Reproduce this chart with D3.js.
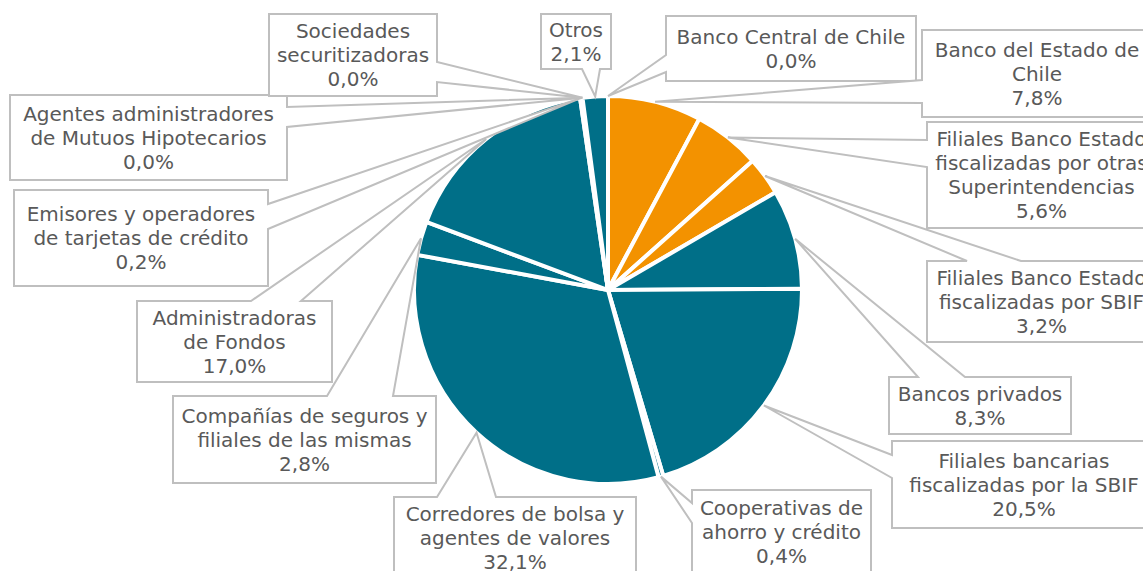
<!DOCTYPE html>
<meta charset="utf-8">
<style>
body { margin: 0; background: #fff; }
.callout path { fill: #fff; stroke: #bfbfbf; stroke-width: 2; }
.callout text { font: 20px "DejaVu Sans", Verdana, sans-serif; fill: #595959; text-anchor: middle; }
.slice path { stroke: #fff; stroke-width: 4; stroke-linejoin: round; }
</style>
<body>
<script src="https://cdn.jsdelivr.net/npm/d3@7"></script>
<script>

// slices, clockwise from 12 o'clock
var categories = [
  "Banco Central de Chile",
  "Banco del Estado de\nChile",
  "Filiales Banco Estado\nfiscalizadas por otras\nSuperintendencias",
  "Filiales Banco Estado\nfiscalizadas por SBIF",
  "Bancos privados",
  "Filiales bancarias\nfiscalizadas por la SBIF",
  "Cooperativas de\nahorro y crédito",
  "Corredores de bolsa y\nagentes de valores",
  "Compañías de seguros y\nfiliales de las mismas",
  "Administradoras\nde Fondos",
  "Emisores y operadores\nde tarjetas de crédito",
  "Agentes administradores\nde Mutuos Hipotecarios",
  "Sociedades\nsecuritizadoras",
  "Otros"
];
var values = [0.0, 7.8, 5.6, 3.2, 8.3, 20.5, 0.4, 32.1, 2.8, 17.0, 0.2, 0.0, 0.0, 2.1];
var groups = ["bcch", "estado", "estado", "estado", "other", "other", "other",
              "other", "other", "other", "other", "other", "other", "other"];

// callout boxes: x0, y0, x1, y1, side of the pointer, pointer base from, to
var boxes = [
  [666, 16, 916, 81, "left", 55, 72],
  [922, 30, 1152, 117, "left", 80, 103],
  [927, 122, 1156, 228, "left", 140, 167],
  [927, 261, 1156, 342, "top", 967, 1021],
  [889, 377, 1071, 434, "top", 918, 965],
  [892, 441, 1156, 528, "left", 455, 478],
  [692, 490, 871, 574, "left", 503, 523],
  [394, 497, 636, 579, "top", 437, 496],
  [173, 396, 436, 483, "top", 327, 393],
  [137, 301, 332, 382, "top", 251, 301],
  [14, 190, 268, 286, "right", 204, 229],
  [10, 95, 287, 180, "right", 107, 127],
  [269, 14, 437, 96, "right", 62, 82],
  [541, 14, 611, 69, "bottom", 582, 600]
];

var width = 1143,
    height = 571,
    cx = 608,
    cy = 290,
    radius = 194;

var color = d3.scaleOrdinal()
    .domain(["bcch", "estado", "other"])
    .range(["#006f88", "#f39200", "#006f88"]);

var pct = d3.formatLocale({decimal: ",", thousands: ".", grouping: [3], currency: ["", ""]}).format(".1f");

var pie = d3.pie()
    .sort(null)
    .value(function(d) { return d; })
    .startAngle(0)
    .endAngle(2 * Math.PI);

var arc = d3.arc()
    .outerRadius(radius)
    .innerRadius(0);

var anchorArc = d3.arc()
    .outerRadius(radius)
    .innerRadius(radius);

var svg = d3.select("body").append("svg")
    .attr("width", width)
    .attr("height", height);

var g = svg.append("g")
    .attr("transform", "translate(" + cx + "," + cy + ")");

var arcs = pie(values);

g.selectAll(".slice")
    .data(arcs)
  .enter().append("g")
    .attr("class", "slice")
  .append("path")
    .attr("d", arc)
    .style("fill", function(d, i) { return color(groups[i]); });

function calloutPath(b, p) {
  var x0 = b[0], y0 = b[1], x1 = b[2], y1 = b[3], side = b[4], a = b[5], c = b[6];
  var pts = [[x0, y0]];
  if (side == "top") pts.push([a, y0], p, [c, y0]);
  pts.push([x1, y0]);
  if (side == "right") pts.push([x1, a], p, [x1, c]);
  pts.push([x1, y1]);
  if (side == "bottom") pts.push([c, y1], p, [a, y1]);
  pts.push([x0, y1]);
  if (side == "left") pts.push([x0, c], p, [x0, a]);
  return "M" + pts.map(function(q) { return q.join(","); }).join("L") + "Z";
}

var callouts = svg.selectAll(".callout")
    .data(arcs)
  .enter().append("g")
    .attr("class", "callout");

callouts.append("path")
    .attr("d", function(d, i) {
      var c = anchorArc.centroid(d);
      return calloutPath(boxes[i], [c[0] + cx, c[1] + cy]);
    });

callouts.append("text")
    .each(function(d, i) {
      var b = boxes[i];
      var lines = categories[i].split("\n").concat([pct(values[i]) + "%"]);
      var midX = (b[0] + b[2]) / 2,
          midY = (b[1] + b[3]) / 2;
      d3.select(this).selectAll("tspan")
          .data(lines)
        .enter().append("tspan")
          .attr("x", midX)
          .attr("y", function(t, j) { return midY + (j - (lines.length - 1) / 2) * 24; })
          .attr("dy", "0.35em")
          .text(function(t) { return t; });
    });

</script>
</body>
